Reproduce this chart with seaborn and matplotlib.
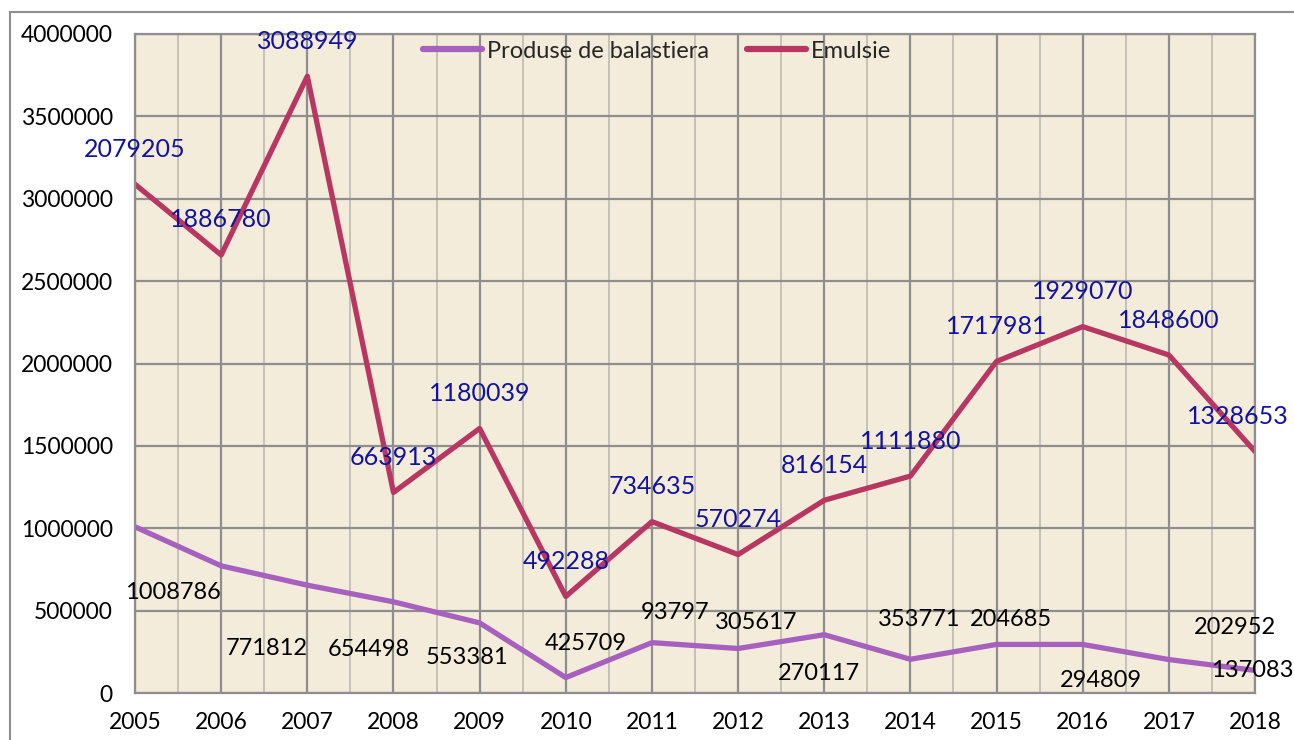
import matplotlib
matplotlib.use("Agg")
import matplotlib.pyplot as plt
import seaborn as sns
import pandas as pd
from matplotlib.patches import Rectangle

years = list(range(2005, 2019))
produse = [1008786, 771812, 654498, 553381, 425709, 93797, 305617,
           270117, 353771, 204685, 294809, 294809, 202952, 137083]
emulsie = [2079205, 1886780, 3088949, 663913, 1180039, 492288, 734635,
           570274, 816154, 1111880, 1717981, 1929070, 1848600, 1328653]
# labels shown for the first series (one is hidden in the original)
produse_labels = ["1008786", "771812", "654498", "553381", "425709", "93797", "305617",
                  "270117", "353771", "204685", "294809", "", "202952", "137083"]
series_names = ["Produse de balastiera", "Emulsie"]

# emulsie is drawn stacked on top of produse (stacked line chart)
stacked = [p + e for p, e in zip(produse, emulsie)]
df = pd.DataFrame({
    "year": years + years,
    "value": produse + stacked,
    "serie": [series_names[0]] * len(years) + [series_names[1]] * len(years),
})

sns.set_style("white")
plt.rcParams["font.family"] = ["Lato", "DejaVu Sans"]

fig = plt.figure(figsize=(12.94, 7.40), dpi=100)
ax = fig.add_axes([135 / 1294, 1 - 693 / 740, 1120 / 1294, 659 / 740])
ax.set_facecolor("#F4ECDA")

sns.lineplot(data=df, x="year", y="value", hue="serie",
             palette=["#A660BE", "#B83762"], linewidth=3.8, ax=ax,
             solid_joinstyle="round", solid_capstyle="round")

ax.set_xlim(2005, 2018)
ax.set_ylim(0, 4000000)
ax.set_xticks(years)
ax.set_xticks([y + 0.5 for y in years[:-1]], minor=True)
ax.set_yticks(range(0, 4000001, 500000))
ax.ticklabel_format(axis="y", style="plain", useOffset=False)
ax.grid(which="major", color="#8E8E8E", linewidth=1.6)
ax.grid(which="minor", axis="x", color="#BDBAB2", linewidth=1.2)
ax.set_axisbelow(True)
for s in ax.spines.values():
    s.set_color("#8E8E8E")
    s.set_linewidth(1.6)
ax.tick_params(axis="both", which="major", labelsize=16.5, colors="black",
               length=8, width=1.6, color="#8E8E8E", direction="out", pad=8)
ax.tick_params(axis="both", which="minor", length=0)
ax.tick_params(axis="x", pad=6)
ax.set_xlabel("")
ax.set_ylabel("")

# black labels of the first series (offsets in pixels)
p_off = [(38, -66), (46, -83), (62, -64), (74, -56), (106, -21), (109, 65), (104, 20),
         (81, -25), (95, 15), (101, 40), (104, -36), (0, 0), (66, 32), (-3, 0)]
for i, lab in enumerate(produse_labels):
    if lab:
        ax.annotate(lab, (years[i], produse[i]), xytext=p_off[i], textcoords="offset pixels",
                    ha="center", va="center", fontsize=17, color="black")

# blue labels of the second series, above the points
for i, v in enumerate(emulsie):
    dx = -17 if i == len(years) - 1 else 0
    ax.annotate(str(v), (years[i], stacked[i]), xytext=(dx, 35), textcoords="offset pixels",
                ha="center", va="center", fontsize=18, color="#1212A0")

leg = ax.legend(loc="center", bbox_to_anchor=(0.466, 0.974), ncol=2, frameon=False,
                fontsize=17, handlelength=2.5, handletextpad=0.2, columnspacing=1.6)
for line in leg.get_lines():
    line.set_linewidth(4.5)

fig.patches.append(Rectangle((10 / 1294, -0.1), 1.2, 1 - 12 / 740 + 0.1,
                             transform=fig.transFigure, fill=False,
                             edgecolor="#8E8E8E", linewidth=1.5))

plt.savefig("out.png", dpi=100)
